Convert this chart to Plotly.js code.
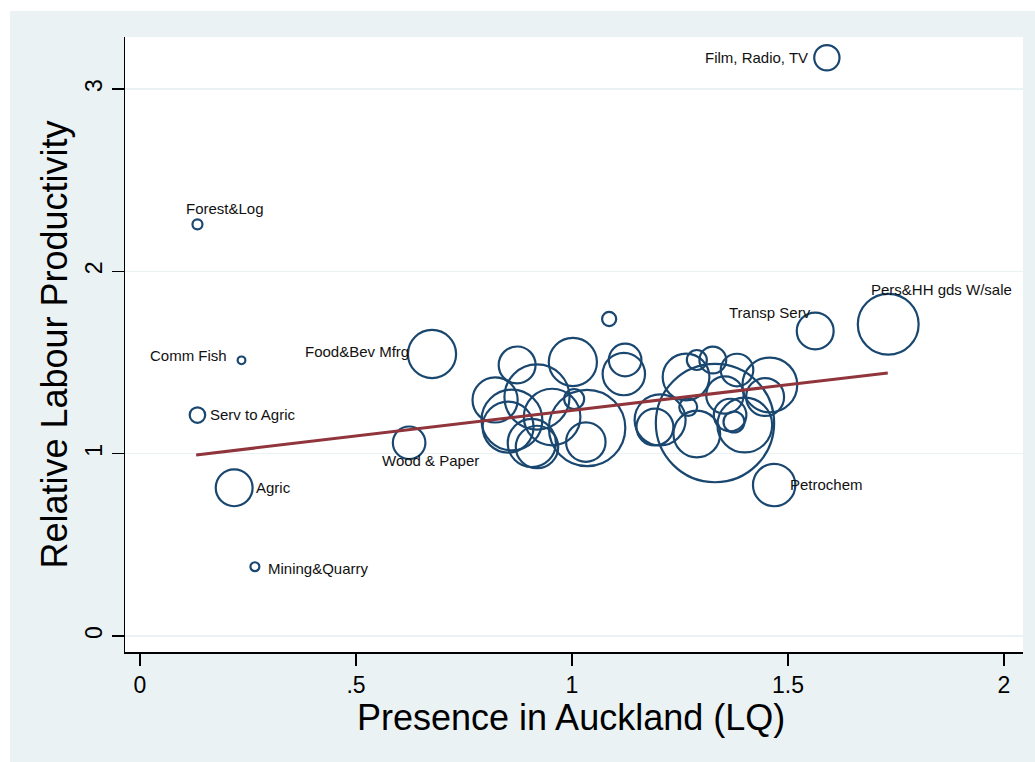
<!DOCTYPE html>
<html>
<head>
<meta charset="utf-8">
<script src="https://cdn.plot.ly/plotly-3.0.1.min.js"></script>
<style>
  html, body { margin: 0; padding: 0; background: #ffffff; overflow: hidden; }
  #chart { position: absolute; left: 10px; top: 11px; width: 1025px; height: 751px; }
</style>
</head>
<body>
<div id="chart"></div>
<script>
// Industries: location quotient in Auckland vs relative labour productivity,
// bubble area weighted by industry employment.
const industry = [
  "Film, Radio, TV", "Forest&Log", "Comm Fish", "Food&Bev Mfrg", "Serv to Agric",
  "Wood & Paper", "Agric", "Mining&Quarry", "Transp Serv", "Pers&HH gds W/sale", "Petrochem",
  "", "", "", "", "", "", "", "", "", "",
  "", "", "", "", "", "", "", "", "", "",
  "", "", "", "", "", "", "", "", "", ""
];
const lq = [
  1.590, 0.133, 0.235, 0.676, 0.133,
  0.623, 0.218, 0.266, 1.563, 1.732, 1.468,
  1.086, 0.873, 1.002, 1.123, 1.120, 1.264, 1.289, 1.326, 1.382, 1.458,
  1.447, 0.822, 0.861, 0.852, 0.919, 0.954, 1.005, 1.035, 1.032, 0.907,
  0.919, 1.204, 1.192, 1.331, 1.289, 1.269, 1.354, 1.366, 1.375, 1.400
];
const productivity = [
  3.172, 2.258, 1.512, 1.547, 1.212,
  1.060, 0.813, 0.380, 1.673, 1.710, 0.828,
  1.739, 1.487, 1.503, 1.514, 1.437, 1.421, 1.514, 1.514, 1.459, 1.377,
  1.311, 1.295, 1.185, 1.146, 1.311, 1.201, 1.300, 1.141, 1.064, 1.059,
  1.037, 1.185, 1.146, 1.168, 1.108, 1.256, 1.322, 1.212, 1.174, 1.157
];
const employment = [
  32, 5, 3, 116, 12,
  53, 68, 4, 68, 185, 90,
  10, 68, 116, 53, 90, 109, 20, 36, 53, 150,
  72, 102, 185, 130, 212, 160, 20, 292, 78, 116,
  90, 130, 68, 700, 109, 16, 70, 53, 22, 150
];

// Linear fit of productivity on LQ, evaluated at the smallest and largest LQ
const fitLq = [0.130, 1.731];
const fitProd = [0.993, 1.443];

const axisTicksX = [0, 0.5, 1, 1.5, 2];
const axisTextX = ["0", ".5", "1", "1.5", "2"];
const axisTicksY = [0, 1, 2, 3];
const xTitle = "Presence in Auckland (LQ)";
const yTitle = "Relative Labour Productivity";

// Label placement around each bubble: pixel offset of the anchor point and text alignment
const labelPlacement = {
  "Film, Radio, TV":    { dx: -17, dy: 0,   xanchor: "right" },
  "Forest&Log":         { dx: 28,  dy: 16,  xanchor: "center" },
  "Comm Fish":          { dx: -13, dy: 5,   xanchor: "right" },
  "Food&Bev Mfrg":      { dx: -21, dy: 2,   xanchor: "right" },
  "Serv to Agric":      { dx: 11,  dy: 1,   xanchor: "left" },
  "Wood & Paper":       { dx: 21,  dy: -18, xanchor: "center" },
  "Agric":              { dx: 20,  dy: 0,   xanchor: "left" },
  "Mining&Quarry":      { dx: 11,  dy: -2,  xanchor: "left" },
  "Transp Serv":        { dx: -2,  dy: 19,  xanchor: "right" },
  "Pers&HH gds W/sale": { dx: -19, dy: 35,  xanchor: "left" },
  "Petrochem":          { dx: 14,  dy: 1,   xanchor: "left" }
};

const NAVY = "#1a476f";
const MAROON = "#90353b";
const FONT = "Liberation Sans, Arial, Helvetica, sans-serif";

const bubbles = {
  type: "scatter",
  mode: "markers",
  x: lq,
  y: productivity,
  text: industry,
  hoverinfo: "x+y+text",
  marker: {
    symbol: "circle",
    color: "rgba(0,0,0,0)",
    opacity: 1,
    size: employment,
    sizemode: "area",
    sizeref: 0.1,
    sizemin: 3,
    line: { color: NAVY, width: 2.2 }
  },
  showlegend: false
};

const fitLine = {
  type: "scatter",
  mode: "lines",
  x: fitLq,
  y: fitProd,
  line: { color: MAROON, width: 3 },
  hoverinfo: "skip",
  showlegend: false
};

const annotations = [];
industry.forEach((name, i) => {
  if (!name) return;
  const p = labelPlacement[name];
  annotations.push({
    x: lq[i], y: productivity[i], xref: "x", yref: "y",
    text: name, showarrow: false,
    xanchor: p.xanchor, yanchor: "middle",
    xshift: p.dx, yshift: p.dy,
    font: { family: FONT, size: 15, color: "#111111" }
  });
});

// x-axis title, set just below the tick labels
annotations.push({
  x: 0.5, y: 0, xref: "paper", yref: "paper",
  text: xTitle, showarrow: false,
  xanchor: "center", yanchor: "middle",
  xshift: -3, yshift: -65,
  font: { family: FONT, size: 36, color: "#000000" }
});

const layout = {
  width: 1025,
  height: 751,
  margin: { l: 115, r: 12, t: 26, b: 110 },
  paper_bgcolor: "#eaf2f3",
  plot_bgcolor: "#ffffff",
  font: { family: FONT, color: "#000000" },
  showlegend: false,
  xaxis: {
    range: [-0.0347, 2.044],
    tickmode: "array",
    tickvals: axisTicksX,
    ticktext: axisTextX,
    ticks: "outside",
    ticklen: 12,
    tickwidth: 1.5,
    tickcolor: "#000000",
    tickfont: { family: FONT, size: 23, color: "#000000" },
    showline: true,
    linecolor: "#000000",
    linewidth: 1.5,
    showgrid: false,
    zeroline: false
  },
  yaxis: {
    range: [-0.0878, 3.2858],
    tickmode: "array",
    tickvals: axisTicksY,
    ticktext: axisTicksY.map(String),
    tickangle: -90,
    ticks: "outside",
    ticklen: 12,
    tickwidth: 1.5,
    tickcolor: "#000000",
    tickfont: { family: FONT, size: 23, color: "#000000" },
    showline: true,
    linecolor: "#000000",
    linewidth: 1.5,
    showgrid: true,
    gridcolor: "#eaf2f3",
    gridwidth: 1.5,
    zeroline: false,
    title: { text: yTitle, font: { family: FONT, size: 36, color: "#000000" }, standoff: 2 }
  },
  annotations: annotations
};

Plotly.newPlot("chart", [bubbles, fitLine], layout, { displayModeBar: false, staticPlot: true });
</script>
</body>
</html>
